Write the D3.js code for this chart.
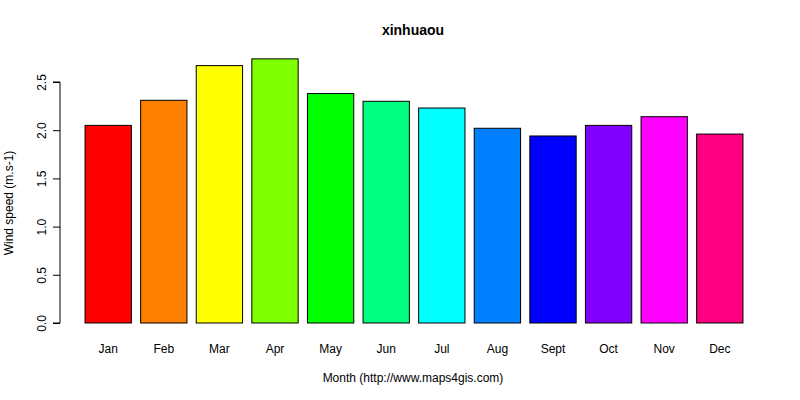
<!DOCTYPE html>
<html><head><meta charset="utf-8">
<script src="https://cdn.jsdelivr.net/npm/d3@7"></script>
<style>body{margin:0;background:#fff}text{font-family:"Liberation Sans",Arial,sans-serif}</style>
</head><body>
<svg id="c" width="800" height="400"></svg>
<script>
const months = ["Jan","Feb","Mar","Apr","May","Jun","Jul","Aug","Sept","Oct","Nov","Dec"];
const values = [2.05,2.31,2.67,2.74,2.38,2.30,2.23,2.02,1.94,2.05,2.14,1.96];
const colors = ["#FF0000","#FF8000","#FFFF00","#80FF00","#00FF00","#00FF80","#00FFFF","#0080FF","#0000FF","#8000FF","#FF00FF","#FF0080"];
const yTicks = [0,0.5,1,1.5,2,2.5];

const svg = d3.select("#c");
const x = d3.scaleBand().domain(months).range([80.4,747.6]).paddingInner(1/6).paddingOuter(1/12);
const y = d3.scaleLinear().domain([0,2.5]).range([323,82]);

svg.selectAll("rect").data(values).join("rect")
  .attr("x",(d,i)=>x(months[i])).attr("width",x.bandwidth())
  .attr("y",d=>y(d)).attr("height",d=>y(0)-y(d))
  .attr("fill",(d,i)=>colors[i]).attr("stroke","#000").attr("stroke-width",1);

const ya = svg.append("g").attr("transform","translate(60,0)")
  .call(d3.axisLeft(y).tickValues(yTicks).tickSize(7).tickFormat(d3.format(".1f")));
ya.select(".domain").attr("d",`M-7,${y(0)}H0V${y(2.5)}H-7`).attr("stroke","#000");
ya.selectAll(".tick line").attr("stroke","#000");
ya.selectAll(".tick text").attr("transform","rotate(-90)").attr("x",0).attr("y",-14)
  .attr("dy",0).attr("text-anchor","middle").attr("font-size",12).attr("fill","#000");
ya.selectAll(".tick text").attr("transform",null).each(function(d){
  d3.select(this).attr("transform",`translate(-18,0) rotate(-90)`).attr("x",0).attr("y",0).attr("dy","0.35em");
});

svg.selectAll(".ml").data(months).join("text").attr("class","ml")
  .attr("x",d=>x(d)+x.bandwidth()/2).attr("y",353).attr("text-anchor","middle")
  .attr("font-size",12).text(d=>d);

svg.append("text").attr("x",413).attr("y",35).attr("text-anchor","middle")
  .attr("font-size",14).attr("font-weight","bold").text("xinhuaou");
svg.append("text").attr("x",413).attr("y",382).attr("text-anchor","middle")
  .attr("font-size",12).text("Month (http://www.maps4gis.com)");
svg.append("text").attr("transform","translate(13,203) rotate(-90)").attr("text-anchor","middle")
  .attr("font-size",12).text("Wind speed (m.s-1)");
</script>
</body></html>
